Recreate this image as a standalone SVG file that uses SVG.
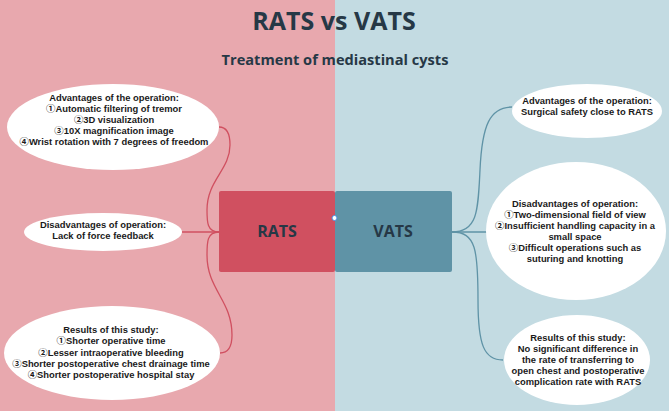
<svg xmlns="http://www.w3.org/2000/svg" width="669" height="411" viewBox="0 0 669 411">
<style>
.t{font-family:"Open Sans","Noto Sans CJK SC",sans-serif;font-weight:bold;fill:#263846;text-anchor:middle}
.b{font-family:"Liberation Sans","Noto Sans CJK SC",sans-serif;font-weight:bold;font-size:9.4px;fill:#1a1a1a;text-anchor:middle}
.e{fill:#ffffff}
.cl{fill:none;stroke:#d05060;stroke-width:1.3}
.cr{fill:none;stroke:#5f93a6;stroke-width:1.3}
</style>
<rect x="0" y="0" width="335" height="411" fill="#e8a8ae"/>
<rect x="335" y="0" width="334" height="411" fill="#c3dbe2"/>
<text class="t" x="334" y="30" font-size="25">RATS vs VATS</text>
<text class="t" x="335" y="65" font-size="14.6">Treatment of mediastinal cysts</text>
<g id="connectors">
<path class="cl" d="M219,232 C207,232 207,222 207,210 C207,180 230,170 230,145 C230,133 226,127 219,127"/>
<path class="cl" d="M182,232 L219,232"/>
<path class="cl" d="M219,232 C207,232 207,242 207,255 C207,290 232,300 232,335 C232,348 228,353 220,353"/>
<path class="cr" d="M452,232 C478,232 478,210 480,170 C482,125 490,107 512,107"/>
<path class="cr" d="M452,232 L487,232"/>
<path class="cr" d="M452,232 C476,232 478,250 478,300 C478,345 484,360 503,360"/>
</g>
<g id="rats">
<rect x="219" y="191" width="116" height="81" rx="2" fill="#d05060"/>
<text class="t" x="277" y="237" font-size="16">RATS</text>
</g>
<g id="vats">
<rect x="335" y="191" width="117" height="81" rx="2" fill="#5f93a6"/>
<text class="t" x="393" y="237" font-size="16">VATS</text>
</g>
<circle cx="334.5" cy="218" r="2.5" fill="#ffffff" stroke="#4a90e2" stroke-width="1"/>
<g id="rats-adv">
<ellipse class="e" cx="113" cy="127" rx="106" ry="43"/>
<text class="b" x="114" y="101">Advantages of the operation:</text>
<text class="b" x="114" y="112">①Automatic filtering of tremor</text>
<text class="b" x="114" y="123">②3D visualization</text>
<text class="b" x="114" y="134">③10X magnification image</text>
<text class="b" x="114" y="145">④Wrist rotation with 7 degrees of freedom</text>
</g>
<g id="rats-dis">
<ellipse class="e" cx="103" cy="232" rx="79" ry="19"/>
<text class="b" x="103" y="228">Disadvantages of operation:</text>
<text class="b" x="103" y="239">Lack of force feedback</text>
</g>
<g id="rats-res">
<ellipse class="e" cx="112" cy="353" rx="108" ry="47"/>
<text class="b" x="111" y="333">Results of this study:</text>
<text class="b" x="111" y="344">①Shorter operative time</text>
<text class="b" x="111" y="355.5">②Lesser intraoperative bleeding</text>
<text class="b" x="111" y="367">③Shorter postoperative chest drainage time</text>
<text class="b" x="111" y="378">④Shorter postoperative hospital stay</text>
</g>
<g id="vats-adv">
<ellipse class="e" cx="587" cy="111" rx="75" ry="27"/>
<text class="b" x="587" y="104">Advantages of the operation:</text>
<text class="b" x="587" y="115">Surgical safety close to RATS</text>
</g>
<g id="vats-dis">
<ellipse class="e" cx="576" cy="231" rx="90" ry="69"/>
<text class="b" x="575" y="207">Disadvantages of operation:</text>
<text class="b" x="575" y="218">①Two-dimensional field of view</text>
<text class="b" x="575" y="229">②Insufficient handling capacity in a</text>
<text class="b" x="575" y="240">small space</text>
<text class="b" x="575" y="251">③Difficult operations such as</text>
<text class="b" x="575" y="262">suturing and knotting</text>
</g>
<g id="vats-res">
<ellipse class="e" cx="577" cy="360" rx="73" ry="45"/>
<text class="b" x="578" y="341">Results of this study:</text>
<text class="b" x="578" y="352">No significant difference in</text>
<text class="b" x="578" y="363">the rate of transferring to</text>
<text class="b" x="578" y="374">open chest and postoperative</text>
<text class="b" x="578" y="385">complication rate with RATS</text>
</g>
</svg>
